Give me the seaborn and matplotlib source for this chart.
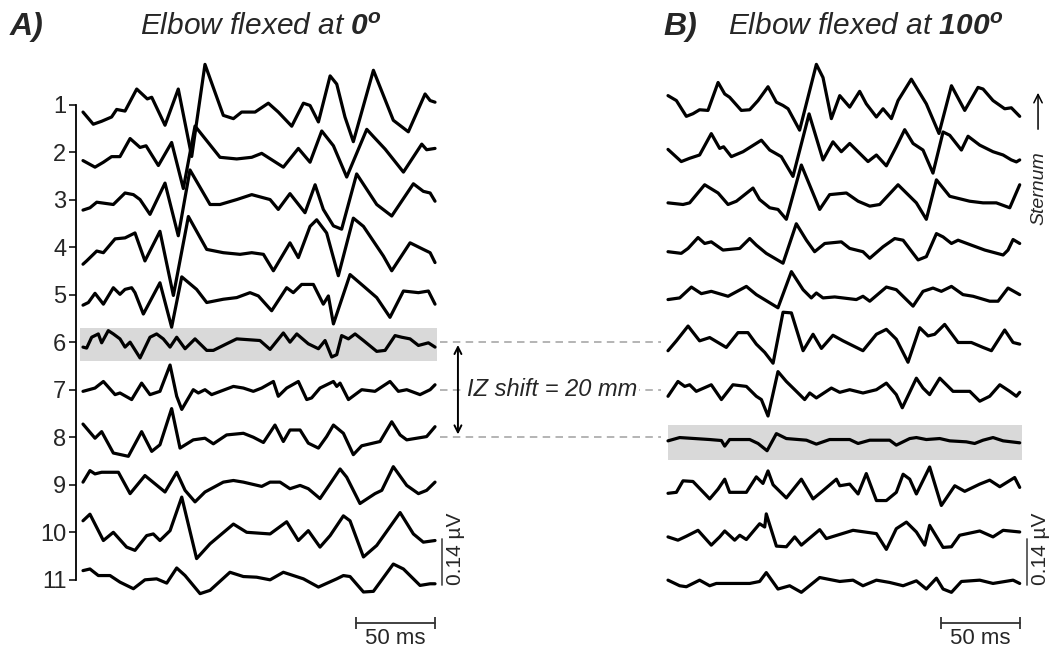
import numpy as np
import pandas as pd
import seaborn as sns
import matplotlib.pyplot as plt

# channel numbers and scales
channels = list(range(1, 12))
spacing_nv = 144.5      # offset between neighbouring traces (nV)
scale_uv = 0.14         # vertical scale bar
scale_ms = 50           # horizontal scale bar

# ---- panel A: elbow flexed at 0 deg (time ms, amplitude nV at turning points)
a01_t = [0, 6.5, 11.8, 18.1, 21.3, 26.6, 34.0, 40.7, 43.5, 51.9, 60.3, 68.8, 77.2, 88.8, 95.2, 100.4, 108.9, 117.3, 123.6, 132.1, 139.5, 143.7, 149.0, 156.4, 160.6, 165.8, 171.1, 183.8, 196.4, 205.9, 216.5, 219.7, 222.8]
a01_v = [-23, -60, -51, -38, -15, -20, 47, 17, 22, -63, 47, -158, 122, -33, -43, -23, -23, 4, -23, -66, 4, -3, -53, 87, 62, -38, -113, 104, -48, -83, 32, 12, 7]
a02_t = [0, 7.6, 12.9, 18.1, 23.4, 29.8, 36.1, 39.9, 47.7, 56.1, 63.5, 70.9, 86.7, 97.3, 106.8, 113.1, 126.8, 136.3, 143.7, 151.1, 158.5, 166.9, 179.6, 183.8, 191.2, 202.8, 214.4, 217.5, 222.8]
a02_v = [-26, -46, -31, -14, -14, 41, 14, 19, -41, 29, -111, 79, -16, -21, -16, -4, -46, 11, -31, 64, 19, -76, 69, 47, 9, -61, 24, 7, 11]
a03_t = [0, 4.4, 8.7, 19.2, 26.6, 31.9, 36.1, 42.4, 51.9, 60.3, 67.7, 80.4, 86.7, 97.3, 106.8, 118.4, 123.6, 131.0, 140.5, 146.9, 152.1, 158.5, 163.7, 173.2, 185.9, 195.4, 209.1, 215.4, 219.7, 222.8]
a03_v = [-32, -25, -8, -15, 20, 15, 0, -45, 50, -110, 90, -15, -15, 0, 15, 0, -30, 18, -40, 45, -30, -80, -90, 78, -15, -50, 48, 25, 20, -5]
a04_t = [0, 2.3, 8.7, 12.9, 20.3, 26.6, 32.9, 39.2, 48.7, 57.2, 66.7, 78.3, 88.8, 99.4, 106.8, 114.2, 120.5, 131.0, 136.3, 143.7, 147.9, 154.2, 161.6, 171.1, 177.5, 190.1, 195.4, 207.0, 215.4, 219.7, 222.8]
a04_v = [-52, -42, -12, -17, 25, 28, 43, -42, 48, -147, 93, -7, -17, -22, -17, -22, -72, 13, -32, 63, 83, 43, -87, 88, 63, -27, -72, 13, -7, -17, -47]
a05_t = [0, 3.4, 7.6, 12.9, 19.2, 23.4, 26.6, 30.8, 32.9, 38.2, 48.7, 56.1, 62.5, 71.9, 78.3, 88.8, 97.3, 105.7, 111.0, 119.4, 128.9, 133.1, 138.4, 145.8, 152.1, 155.3, 158.5, 169.0, 177.5, 185.9, 194.3, 202.8, 212.3, 218.6, 222.8]
a05_v = [-32, -24, 4, -29, 21, 1, 16, 21, 6, -59, 36, -99, 54, 16, -24, -14, -9, 6, -4, -49, 21, 6, 31, 31, -29, -4, -89, 61, 26, -9, -69, 11, 6, 11, -29]
a06_t = [0, 2.3, 5.5, 9.7, 11.8, 16.0, 19.2, 23.4, 26.6, 29.8, 36.1, 42.4, 46.6, 50.8, 55.1, 59.3, 64.6, 70.9, 78.3, 82.5, 90.9, 97.3, 112.0, 118.4, 126.8, 131.0, 135.3, 142.6, 149.0, 153.2, 157.4, 160.6, 163.7, 168.0, 172.2, 177.5, 185.9, 191.2, 197.5, 201.7, 207.0, 212.3, 218.6, 222.8]
a06_v = [-15, -18, 15, 25, -2, 35, 25, 10, -15, 0, -48, 15, 25, 10, -15, 15, -20, 10, -25, -25, -5, 10, 5, -22, 28, 0, 25, -5, -20, 5, -45, -38, 20, 10, 25, 5, -28, -25, 20, 15, 10, -10, -2, -15]
a07_t = [0, 7.6, 12.9, 20.3, 23.4, 30.8, 37.1, 42.4, 48.7, 55.1, 59.3, 62.5, 69.8, 73.0, 77.2, 81.4, 95.2, 101.5, 107.8, 113.1, 120.5, 123.6, 128.9, 136.3, 141.6, 144.7, 150.0, 158.5, 160.6, 162.7, 168.0, 176.4, 184.8, 194.3, 199.6, 204.9, 213.3, 219.7, 222.8]
a07_v = [-5, 5, 25, -15, -10, -30, 20, -15, -5, 75, -20, -60, 0, -10, 0, -15, 10, 5, -5, 5, 25, -20, 5, 25, -30, -25, 5, 25, 10, 20, -30, 0, -5, 25, -5, 0, -15, 0, 15]
a08_t = [0, 7.6, 11.8, 19.2, 28.7, 37.1, 43.5, 48.7, 56.1, 61.4, 69.8, 77.2, 82.5, 90.9, 101.5, 107.8, 114.2, 121.5, 126.8, 131.0, 137.4, 142.6, 149.0, 154.2, 158.5, 164.8, 171.1, 176.4, 188.0, 195.4, 200.7, 204.9, 211.2, 217.5, 222.8]
a08_v = [40, -3, 17, -48, -58, 17, -43, -23, 87, -33, -8, -3, -20, 7, 12, 0, -16, 37, -13, 22, 22, -18, -33, 2, 37, 12, -53, -26, -13, 47, 7, -8, -3, 2, 32]
a09_t = [0, 4.4, 7.6, 11.8, 22.4, 29.8, 39.2, 51.9, 59.3, 64.6, 70.9, 77.2, 88.8, 95.2, 101.5, 113.1, 118.4, 124.7, 131.0, 137.4, 142.6, 150.0, 156.4, 162.7, 166.9, 175.3, 184.8, 189.1, 196.4, 204.9, 212.3, 217.5, 222.8]
a09_v = [8, 43, 33, 38, 38, -27, 28, -22, 38, -17, -52, -22, 8, 13, 8, -5, 8, 8, -12, -2, -12, -42, 3, 48, 23, -57, -27, -17, 55, -2, -27, -17, 8]
a10_t = [0, 4.4, 12.9, 19.2, 27.6, 32.9, 40.3, 44.5, 48.7, 55.1, 62.5, 71.9, 80.4, 95.2, 103.6, 118.4, 128.9, 136.3, 142.6, 150.0, 156.4, 164.8, 169.0, 177.5, 185.9, 200.7, 209.1, 215.4, 222.8]
a10_v = [35, 55, -25, 0, -45, -55, -10, -5, -25, 5, 107, -80, -35, 25, 0, -5, 32, -25, 5, -45, -10, 50, 35, -75, -40, 60, -5, -30, -25]
a11_t = [0, 4.4, 9.7, 17.1, 23.4, 31.9, 39.2, 46.6, 53.0, 59.3, 64.6, 74.1, 80.4, 93.0, 101.5, 109.9, 118.4, 126.8, 139.5, 149.0, 160.6, 164.8, 169.0, 177.5, 183.8, 196.4, 202.8, 213.3, 219.7, 222.8]
a11_v = [28, 33, 13, 13, -7, -27, 0, 3, -10, 36, 13, -42, -32, 23, 10, 8, 0, 23, 3, -22, 3, 13, 10, -37, -35, 48, 33, -17, -12, -12]

# ---- panel B: elbow flexed at 100 deg
b01_t = [0, 5.3, 11.6, 15.8, 20.0, 25.3, 31.7, 35.9, 39.0, 46.4, 51.7, 57.0, 63.3, 68.6, 72.8, 76.0, 83.3, 93.9, 98.1, 103.4, 108.7, 115.0, 121.3, 125.5, 131.9, 136.1, 141.4, 145.6, 154.0, 163.5, 171.5, 179.4, 187.8, 196.2, 199.4, 205.7, 213.1, 217.3, 222.6]
b01_v = [27, 12, -36, -28, -16, -18, 67, 32, 22, -18, -16, 12, 54, 7, -3, -13, -78, 122, 82, -43, 27, -8, 40, 2, -38, -13, -43, 12, 77, 2, -88, 57, -18, 52, 47, 12, -13, -10, -36]
b02_t = [0, 8.4, 13.7, 20.0, 27.4, 32.7, 35.2, 40.1, 47.5, 59.1, 64.4, 71.7, 79.1, 89.3, 98.1, 104.4, 109.7, 115.0, 126.6, 131.9, 138.2, 144.5, 149.8, 155.1, 161.4, 167.7, 174.1, 178.3, 185.7, 189.9, 197.3, 205.7, 212.1, 217.3, 220.5, 222.6]
b02_v = [8, -29, -19, -9, 56, 11, 16, -14, 1, 36, 6, -14, -74, 116, -24, 31, 1, 26, -29, -9, -42, 16, 68, 26, 6, -64, 61, 51, 6, 48, 21, 1, -9, -24, -30, -24]
b03_t = [0, 9.5, 13.7, 23.2, 31.7, 38.0, 43.3, 53.8, 58.0, 64.4, 69.6, 74.9, 84.4, 96.0, 102.3, 112.9, 120.3, 127.7, 134.0, 145.6, 157.2, 163.5, 169.9, 178.3, 190.9, 199.4, 207.8, 216.3, 222.6]
b03_v = [-10, -15, -10, 45, 20, -15, -5, 35, 0, -25, -30, -60, 105, -30, 15, 20, -5, -20, -15, 45, -10, -60, 60, 10, -5, -10, -10, -25, 45]
b04_t = [0, 8.4, 12.7, 19.0, 23.2, 27.4, 34.8, 45.4, 51.7, 55.9, 62.2, 67.5, 72.8, 81.2, 87.6, 92.8, 99.2, 109.7, 115.0, 123.4, 127.7, 136.1, 143.5, 148.8, 155.1, 158.3, 163.5, 169.9, 174.1, 179.4, 183.6, 192.0, 200.5, 212.1, 215.2, 218.4, 222.6]
b04_v = [-14, -19, -4, 29, 11, 16, -9, -4, 26, 6, -19, -34, -49, 71, 21, -14, 11, 16, -4, -14, -34, 1, 26, 21, -19, -39, -29, 41, 31, 11, 21, 6, -9, -24, -9, 23, 11]
b05_t = [0, 7.4, 14.8, 21.1, 27.4, 38.0, 49.6, 55.9, 69.6, 78.1, 85.5, 90.7, 93.9, 98.1, 105.5, 119.2, 123.4, 127.7, 138.2, 144.5, 155.1, 161.4, 167.7, 173.0, 179.4, 186.7, 193.1, 203.6, 208.9, 215.2, 222.6]
b05_v = [-15, -10, 23, 3, 10, -5, 25, 0, -40, 70, 15, -10, 5, -10, -7, -15, -5, -20, 23, 15, -35, 10, 20, 10, 25, 0, -5, -20, -20, 20, 0]
b06_t = [0, 5.3, 12.7, 20.0, 26.4, 36.9, 44.3, 50.6, 55.9, 61.2, 66.5, 72.8, 78.1, 85.5, 91.8, 97.1, 104.4, 110.8, 123.4, 131.9, 138.2, 144.5, 151.9, 159.3, 164.6, 168.8, 175.1, 183.6, 192.0, 199.4, 204.7, 213.1, 218.4, 222.6]
b06_v = [-26, 4, 49, 4, 14, -16, 29, 29, -6, -31, -64, 91, 89, -26, 24, -19, 21, 4, -26, 24, 39, 9, -61, 44, 19, 24, 54, -1, -1, -16, -26, 37, -1, -6]
b07_t = [0, 6.3, 10.6, 13.7, 17.9, 27.4, 33.8, 41.1, 49.6, 55.9, 59.1, 63.3, 69.6, 74.9, 80.2, 86.5, 89.7, 93.9, 103.4, 108.7, 115.0, 123.4, 131.9, 138.2, 144.5, 148.3, 157.2, 161.4, 165.6, 172.0, 180.4, 191.0, 197.3, 203.6, 210.0, 216.3, 220.5, 222.6]
b07_v = [-20, 25, 10, 15, -5, 15, -30, 15, 10, -20, -30, -80, 55, 25, 0, -30, -10, -25, 5, -8, 0, -10, 0, 20, -15, -55, 35, 5, -15, 35, -5, -5, -35, -20, 15, -5, -20, -8]
b08_t = [0, 7.4, 26.4, 33.8, 35.9, 39.0, 51.7, 57.0, 62.7, 68.6, 74.9, 87.6, 93.9, 102.3, 115.0, 120.3, 127.7, 140.3, 144.5, 153.0, 157.2, 163.5, 172.0, 178.3, 188.8, 194.1, 199.4, 205.7, 212.1, 222.6]
b08_v = [-11, -1, -7, -10, -27, -7, -7, -19, -41, 11, -4, -9, -21, -7, -7, -19, -9, -9, -24, -4, -1, -7, -4, -11, -14, -19, -9, -1, -11, -17]
b09_t = [0, 5.3, 9.5, 15.8, 26.4, 31.7, 35.9, 39.0, 49.6, 55.9, 60.1, 63.3, 66.5, 74.9, 84.4, 91.8, 98.1, 106.6, 108.7, 115.0, 120.3, 125.5, 131.9, 138.2, 144.5, 148.8, 153.0, 157.2, 165.6, 173.0, 181.5, 187.8, 197.3, 203.6, 210.0, 219.4, 222.6]
b09_v = [-26, -23, 12, 10, -43, -13, 17, -23, -23, 24, 4, 42, 0, -40, 17, -43, -18, 17, -3, 2, -28, 34, -48, -48, -23, 32, 17, -28, 54, -63, -3, -20, 2, 14, -6, 22, -8]
b10_t = [0, 6.3, 11.6, 19.0, 27.4, 32.7, 35.9, 42.2, 45.4, 49.6, 58.0, 61.2, 62.2, 68.6, 74.9, 80.2, 84.4, 96.0, 100.2, 117.1, 131.9, 138.2, 144.5, 150.9, 157.2, 162.5, 165.6, 174.1, 179.4, 184.6, 197.3, 205.7, 212.1, 222.6]
b10_v = [-14, -24, -12, 6, -39, -14, 4, -24, -9, -22, 26, 16, 56, -42, -44, -14, -39, 8, -19, 6, -4, -52, 11, 31, 1, -39, 21, -46, -44, -9, 4, -14, 6, 1]
b11_t = [0, 7.4, 11.6, 20.0, 26.4, 30.6, 51.7, 58.0, 62.2, 69.6, 77.0, 84.4, 96.0, 108.7, 117.1, 123.4, 131.9, 140.3, 148.8, 157.2, 163.5, 169.9, 174.1, 179.4, 185.7, 197.3, 205.7, 218.4, 222.6]
b11_v = [-1, -18, -21, -1, -18, -11, -11, -5, 22, -28, -18, -38, 7, -5, -1, -18, -1, -8, -18, -3, -28, 5, -28, -38, -5, -1, -11, -1, -11]

a_traces = [(a01_t, a01_v), (a02_t, a02_v), (a03_t, a03_v), (a04_t, a04_v), (a05_t, a05_v), (a06_t, a06_v),
            (a07_t, a07_v), (a08_t, a08_v), (a09_t, a09_v), (a10_t, a10_v), (a11_t, a11_v)]
b_traces = [(b01_t, b01_v), (b02_t, b02_v), (b03_t, b03_v), (b04_t, b04_v), (b05_t, b05_v), (b06_t, b06_v),
            (b07_t, b07_v), (b08_t, b08_v), (b09_t, b09_v), (b10_t, b10_v), (b11_t, b11_v)]


def to_frame(traces):
    rows = []
    for ch, (t, v) in zip(channels, traces):
        off = -(ch - 1) * spacing_nv
        for ti, vi in zip(t, v):
            rows.append((ch, ti, vi + off))
    return pd.DataFrame(rows, columns=["ch", "t", "y"])


dfA = to_frame(a_traces)
dfB = to_frame(b_traces)
base = {ch: -(ch - 1) * spacing_nv for ch in channels}

sns.set_style("white")
plt.rcParams['font.family'] = ['Liberation Sans', 'DejaVu Sans']
plt.rcParams['mathtext.fontset'] = 'custom'
plt.rcParams['mathtext.it'] = 'Liberation Sans:italic'
plt.rcParams['mathtext.rm'] = 'Liberation Sans:italic'
plt.rcParams['mathtext.bf'] = 'Liberation Sans:italic:bold'

W, H = 1055, 650
fig = plt.figure(figsize=(W / 100, H / 100), dpi=100)
px_ms = 79 / 50        # pixels per ms
nv_px = 3.04           # nV per pixel
y0 = 104.5             # pixel row of channel 1
ylim = (-(H - y0) * nv_px, y0 * nv_px)

axA = fig.add_axes([40 / W, 0, 620 / W, 1])
axB = fig.add_axes([660 / W, 0, 395 / W, 1])
axA.set_xlim((40 - 83) / px_ms, (660 - 83) / px_ms)
axB.set_xlim((660 - 668) / px_ms, (1055 - 668) / px_ms)
for ax in (axA, axB):
    ax.set_ylim(*ylim)
    ax.set_facecolor('none')
    for s in ax.spines.values():
        s.set_visible(False)
    ax.set_xticks([])
    ax.set_yticks([])

# highlighted channels
axA.fill_between([-1.9, 224], base[6] - 56, base[6] + 42, color='#d9d9d9', lw=0, zorder=0)
axB.fill_between([0, 224], base[8] - 70, base[8] + 36, color='#d9d9d9', lw=0, zorder=0)

for ax, df in ((axA, dfA), (axB, dfB)):
    sns.lineplot(data=df, x="t", y="y", units="ch", estimator=None, sort=False,
                 color="black", linewidth=2.3, solid_joinstyle='round',
                 solid_capstyle='round', ax=ax, legend=False)
    ax.set_xlabel("")
    ax.set_ylabel("")

# channel axis in panel A
axA.spines['left'].set_visible(True)
axA.spines['left'].set_position(('data', -4.4))
axA.spines['left'].set_bounds(base[11], base[1])
axA.spines['left'].set_linewidth(1.3)
axA.spines['left'].set_color('black')
axA.set_yticks([base[c] for c in channels])
axA.set_yticklabels([str(c) for c in channels])
axA.tick_params(axis='y', direction='out', length=5, width=1.3, labelsize=17, pad=2, left=True)

# scale bars
for ax in (axA, axB):
    yb = -(585 - y0) * nv_px
    ax.plot([227.2, 227.2], [yb, yb + scale_uv * 1000], color='#555555', lw=1.3)
    ax.text(236.0, -(549 - y0) * nv_px, f"{scale_uv} µV", rotation=90, ha='center', va='center', fontsize=15)
    yh = -(623 - y0) * nv_px
    ax.plot([172.8, 172.8 + scale_ms], [yh, yh], color='#333333', lw=1.3,
            marker='|', markersize=9, mew=1.3, clip_on=False)
    ax.text(172.8 + scale_ms / 2, yh - 16, f"{scale_ms} ms", ha='center', va='top', fontsize=16)

# IZ shift connectors
for ch in (6, 7, 8):
    axA.plot([226, 366], [base[ch], base[ch]], color='#a8a8a8', lw=1.2,
             ls=(0, (4.5, 3.2)), clip_on=False, zorder=1)
axA.annotate("", xy=(237.3, base[8]), xytext=(237.3, base[6]),
             arrowprops=dict(arrowstyle='<->,head_length=0.5,head_width=0.25', lw=1.4, color='black'))
axA.text(296.8, base[7], "IZ shift = 20 mm", ha='center', va='center', fontsize=17,
         style='italic', bbox=dict(fc='white', ec='none', pad=1.5), zorder=3)

# sternum direction
axB.text(234.8, -(188 - y0) * nv_px, "Sternum", rotation=90, ha='center', va='center',
         fontsize=14, style='italic')
axB.annotate("", xy=(234.2, -(90 - y0) * nv_px), xytext=(234.2, -(132 - y0) * nv_px),
             arrowprops=dict(arrowstyle='->,head_length=0.6,head_width=0.3', lw=1.1, color='black'))

# panel titles
yt = 1 - 35 / H
fig.text(10 / W, yt, "A)", fontsize=23, fontweight='bold', style='italic', va='baseline')
fig.text(140 / W, yt, r"$\mathit{Elbow\ flexed\ at\ }\mathbf{0^{o}}$", fontsize=21.5, va='baseline')
fig.text(663 / W, yt, "B)", fontsize=23, fontweight='bold', style='italic', va='baseline')
fig.text(728 / W, yt, r"$\mathit{Elbow\ flexed\ at\ }\mathbf{100^{o}}$", fontsize=21.5, va='baseline')

fig.savefig("out.png", dpi=100)
